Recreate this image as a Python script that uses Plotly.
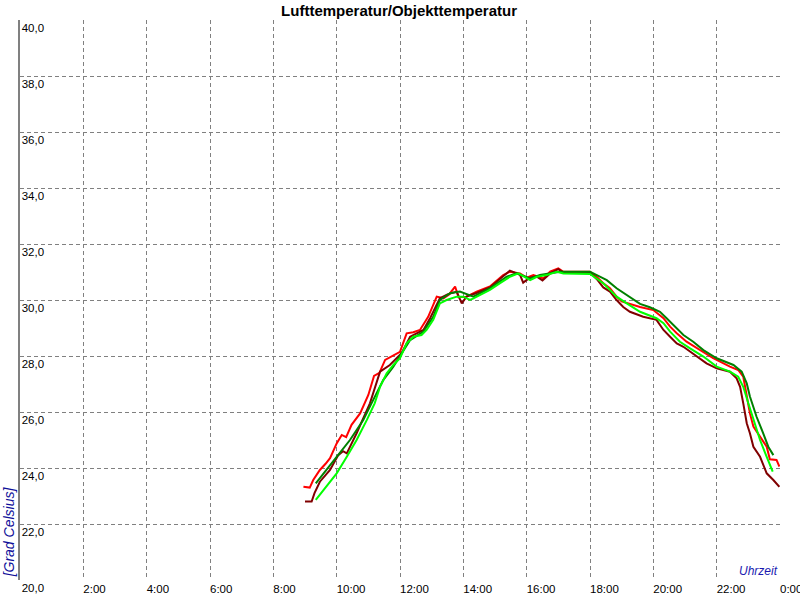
import plotly.graph_objects as go

title_text = "Lufttemperatur/Objekttemperatur"
y_title = "[Grad Celsius]"
x_title = "Uhrzeit"

x_tick_vals = [0, 2, 4, 6, 8, 10, 12, 14, 16, 18, 20, 22, 24]
x_tick_text = ["", "2:00", "4:00", "6:00", "8:00", "10:00", "12:00", "14:00",
               "16:00", "18:00", "20:00", "22:00", "0:00"]

# red series
red_t = [8.95, 9.15, 9.26, 9.47, 9.65, 9.79, 10.0, 10.16, 10.30, 10.47, 10.74, 11.0, 11.18,
         11.35, 11.53, 11.84, 12.0, 12.21, 12.42, 12.63, 12.89, 13.16, 13.37, 13.55, 13.68,
         13.74, 13.85, 14.1, 14.42, 14.84, 15.26, 15.47, 15.79, 16.0, 16.21, 16.53, 16.74,
         17.0, 17.16, 17.6, 18.0, 18.21, 18.42, 18.63, 18.84, 19.0, 19.37, 19.58, 20.0,
         20.32, 20.53, 20.74, 21.05, 21.47, 21.89, 22.42, 22.68, 22.84, 22.95, 23.05, 23.16,
         23.37, 23.58, 23.68, 23.89, 23.98]
red_v = [23.33, 23.30, 23.57, 23.93, 24.15, 24.35, 24.88, 25.18, 25.10, 25.54, 25.95, 26.61, 27.29,
         27.40, 27.86, 28.04, 28.15, 28.81, 28.85, 28.93, 29.40, 30.12, 30.06, 30.20, 30.42,
         30.48, 30.10, 30.12, 30.30, 30.48, 30.89, 31.01, 30.95, 30.80, 30.89, 30.77, 31.01,
         31.13, 31.01, 31.0, 31.01, 30.83, 30.60, 30.42, 30.12, 29.95, 29.82, 29.75, 29.64,
         29.35, 29.05, 28.81, 28.51, 28.21, 27.92, 27.62, 27.50, 27.26, 26.55, 25.95, 25.48,
         25.12, 24.76, 24.31, 24.29, 24.05]

# dark red series
darkred_t = [9.0, 9.21, 9.3, 9.47, 9.79, 10.05, 10.2, 10.32, 10.63, 11.05, 11.37, 11.68, 12.05,
             12.32, 12.74, 12.95, 13.26, 13.5, 13.79, 13.95, 14.1, 14.42, 14.84, 15.26, 15.47,
             15.79, 15.89, 16.1, 16.3, 16.5, 16.74, 17.0, 17.16, 18.0, 18.21, 18.42, 18.63,
             18.84, 19.05, 19.26, 19.68, 20.1, 20.32, 20.53, 20.74, 20.95, 21.37, 21.68, 22.0,
             22.42, 22.63, 22.74, 22.84, 22.95, 23.05, 23.16, 23.37, 23.58, 23.79, 23.98]
darkred_v = [22.80, 22.80, 23.10, 23.51, 23.93, 24.46, 24.60, 24.52, 25.24, 26.31, 27.44, 27.68, 28.10,
             28.69, 28.93, 29.35, 30.06, 30.20, 30.30, 29.88, 30.12, 30.25, 30.45, 30.85, 31.05,
             30.90, 30.62, 30.80, 30.85, 30.70, 30.95, 31.10, 30.98, 30.98, 30.75, 30.45, 30.30,
             30.00, 29.75, 29.58, 29.40, 29.29, 28.93, 28.69, 28.45, 28.33, 27.98, 27.74, 27.56,
             27.44, 27.20, 26.90, 26.31, 25.60, 25.24, 24.76, 24.40, 23.81, 23.57, 23.33]

# dark green series
darkgreen_t = [9.34, 9.58, 10.0, 10.42, 10.84, 11.1, 11.47, 11.79, 12.11, 12.32, 12.74, 13.05,
               13.26, 13.58, 13.89, 14.32, 14.84, 15.37, 15.68, 16.11, 16.42, 17.05, 18.0, 18.21,
               18.53, 18.84, 19.16, 19.58, 19.89, 20.21, 20.42, 20.63, 20.95, 21.26, 21.58, 22.0,
               22.53, 22.79, 22.95, 23.05, 23.26, 23.47, 23.63, 23.79]
darkgreen_v = [23.45, 23.81, 24.40, 25.00, 25.71, 26.31, 27.14, 27.62, 28.21, 28.57, 28.87, 29.40,
               30.00, 30.24, 30.30, 30.12, 30.42, 30.83, 30.95, 30.77, 30.89, 31.01, 31.01, 30.89,
               30.71, 30.42, 30.18, 29.86, 29.74, 29.58, 29.35, 29.11, 28.75, 28.51, 28.21, 27.92,
               27.68, 27.44, 27.02, 26.55, 25.83, 25.24, 24.76, 24.46]

# lime series
lime_t = [9.34, 9.68, 10.0, 10.32, 10.63, 10.95, 11.2, 11.37, 11.58, 11.79, 12.0, 12.21, 12.42,
          12.68, 12.84, 13.05, 13.26, 13.47, 13.79, 14.0, 14.21, 14.32, 14.84, 15.16, 15.47,
          15.74, 16.11, 16.32, 16.63, 16.95, 17.16, 18.0, 18.21, 18.42, 18.63, 18.84, 19.16,
          19.58, 20.1, 20.32, 20.53, 20.84, 21.16, 21.58, 22.0, 22.42, 22.68, 22.84, 23.0,
          23.16, 23.37, 23.58, 23.77]
lime_v = [22.86, 23.33, 23.81, 24.40, 25.00, 25.71, 26.31, 26.90, 27.38, 27.68, 27.92, 28.45, 28.69,
          28.75, 28.93, 29.29, 29.88, 30.00, 30.12, 30.12, 30.00, 30.06, 30.36, 30.60, 30.83,
          30.95, 30.71, 30.83, 30.89, 31.01, 30.95, 30.93, 30.77, 30.60, 30.36, 30.12, 29.88,
          29.58, 29.35, 29.17, 28.87, 28.51, 28.27, 27.98, 27.62, 27.44, 27.26, 26.90, 26.31,
          25.71, 25.00, 24.40, 23.87]

fig = go.Figure()
fig.add_trace(go.Scatter(x=red_t, y=red_v, mode="lines", line=dict(color="#FF0000", width=2)))
fig.add_trace(go.Scatter(x=darkred_t, y=darkred_v, mode="lines", line=dict(color="#800000", width=2)))
fig.add_trace(go.Scatter(x=darkgreen_t, y=darkgreen_v, mode="lines", line=dict(color="#008000", width=2)))
fig.add_trace(go.Scatter(x=lime_t, y=lime_v, mode="lines", line=dict(color="#00FF00", width=2)))

font_main = "Arial, Liberation Sans, sans-serif"

fig.update_layout(
    width=800, height=600,
    margin=dict(l=20, r=20, t=20, b=20, autoexpand=False),
    paper_bgcolor="white", plot_bgcolor="white",
    showlegend=False,
    separators=",.",
    font=dict(family=font_main, size=12, color="black"),
    title=dict(text="<b>" + title_text + "</b>", xref="container", x=0.4988, xanchor="center",
               yref="container", y=0.9825, yanchor="middle",
               font=dict(size=15, color="black", family=font_main)),
    hovermode=False,
)

fig.update_xaxes(
    range=[0, 24], tickvals=x_tick_vals, ticktext=x_tick_text,
    showgrid=True, gridcolor="#808080", gridwidth=1, griddash="4px,3px",
    zeroline=False, showline=False, ticks="", ticklabelposition="outside right",
    ticklabeloverflow="allow", automargin=False,
    tickfont=dict(size=11.5, color="black"),
)
fig.update_yaxes(
    range=[20, 40], dtick=2, tick0=20, tickformat=".1f",
    showgrid=True, gridcolor="#808080", gridwidth=1, griddash="4px,3px",
    zeroline=False, showline=True, linecolor="#808080", linewidth=2,
    ticks="", ticklabelposition="inside bottom", ticklabeloverflow="allow", automargin=False,
    tickfont=dict(size=11.5, color="black"),
)

fig.add_annotation(text="<i>" + y_title + "</i>", xref="paper", yref="paper",
                   x=-0.0145, y=0.002, xanchor="center", yanchor="bottom", textangle=-90,
                   showarrow=False, font=dict(size=14, color="#10109a", family=font_main))
fig.add_annotation(text="<i>" + x_title + "</i>", xref="paper", yref="paper",
                   x=1, y=0, xanchor="right", yanchor="bottom",
                   showarrow=False, font=dict(size=12, color="#1a1ab0", family=font_main))

fig.write_html("out.html", config={"displayModeBar": False},
               post_script="document.body.style.margin='0';")
